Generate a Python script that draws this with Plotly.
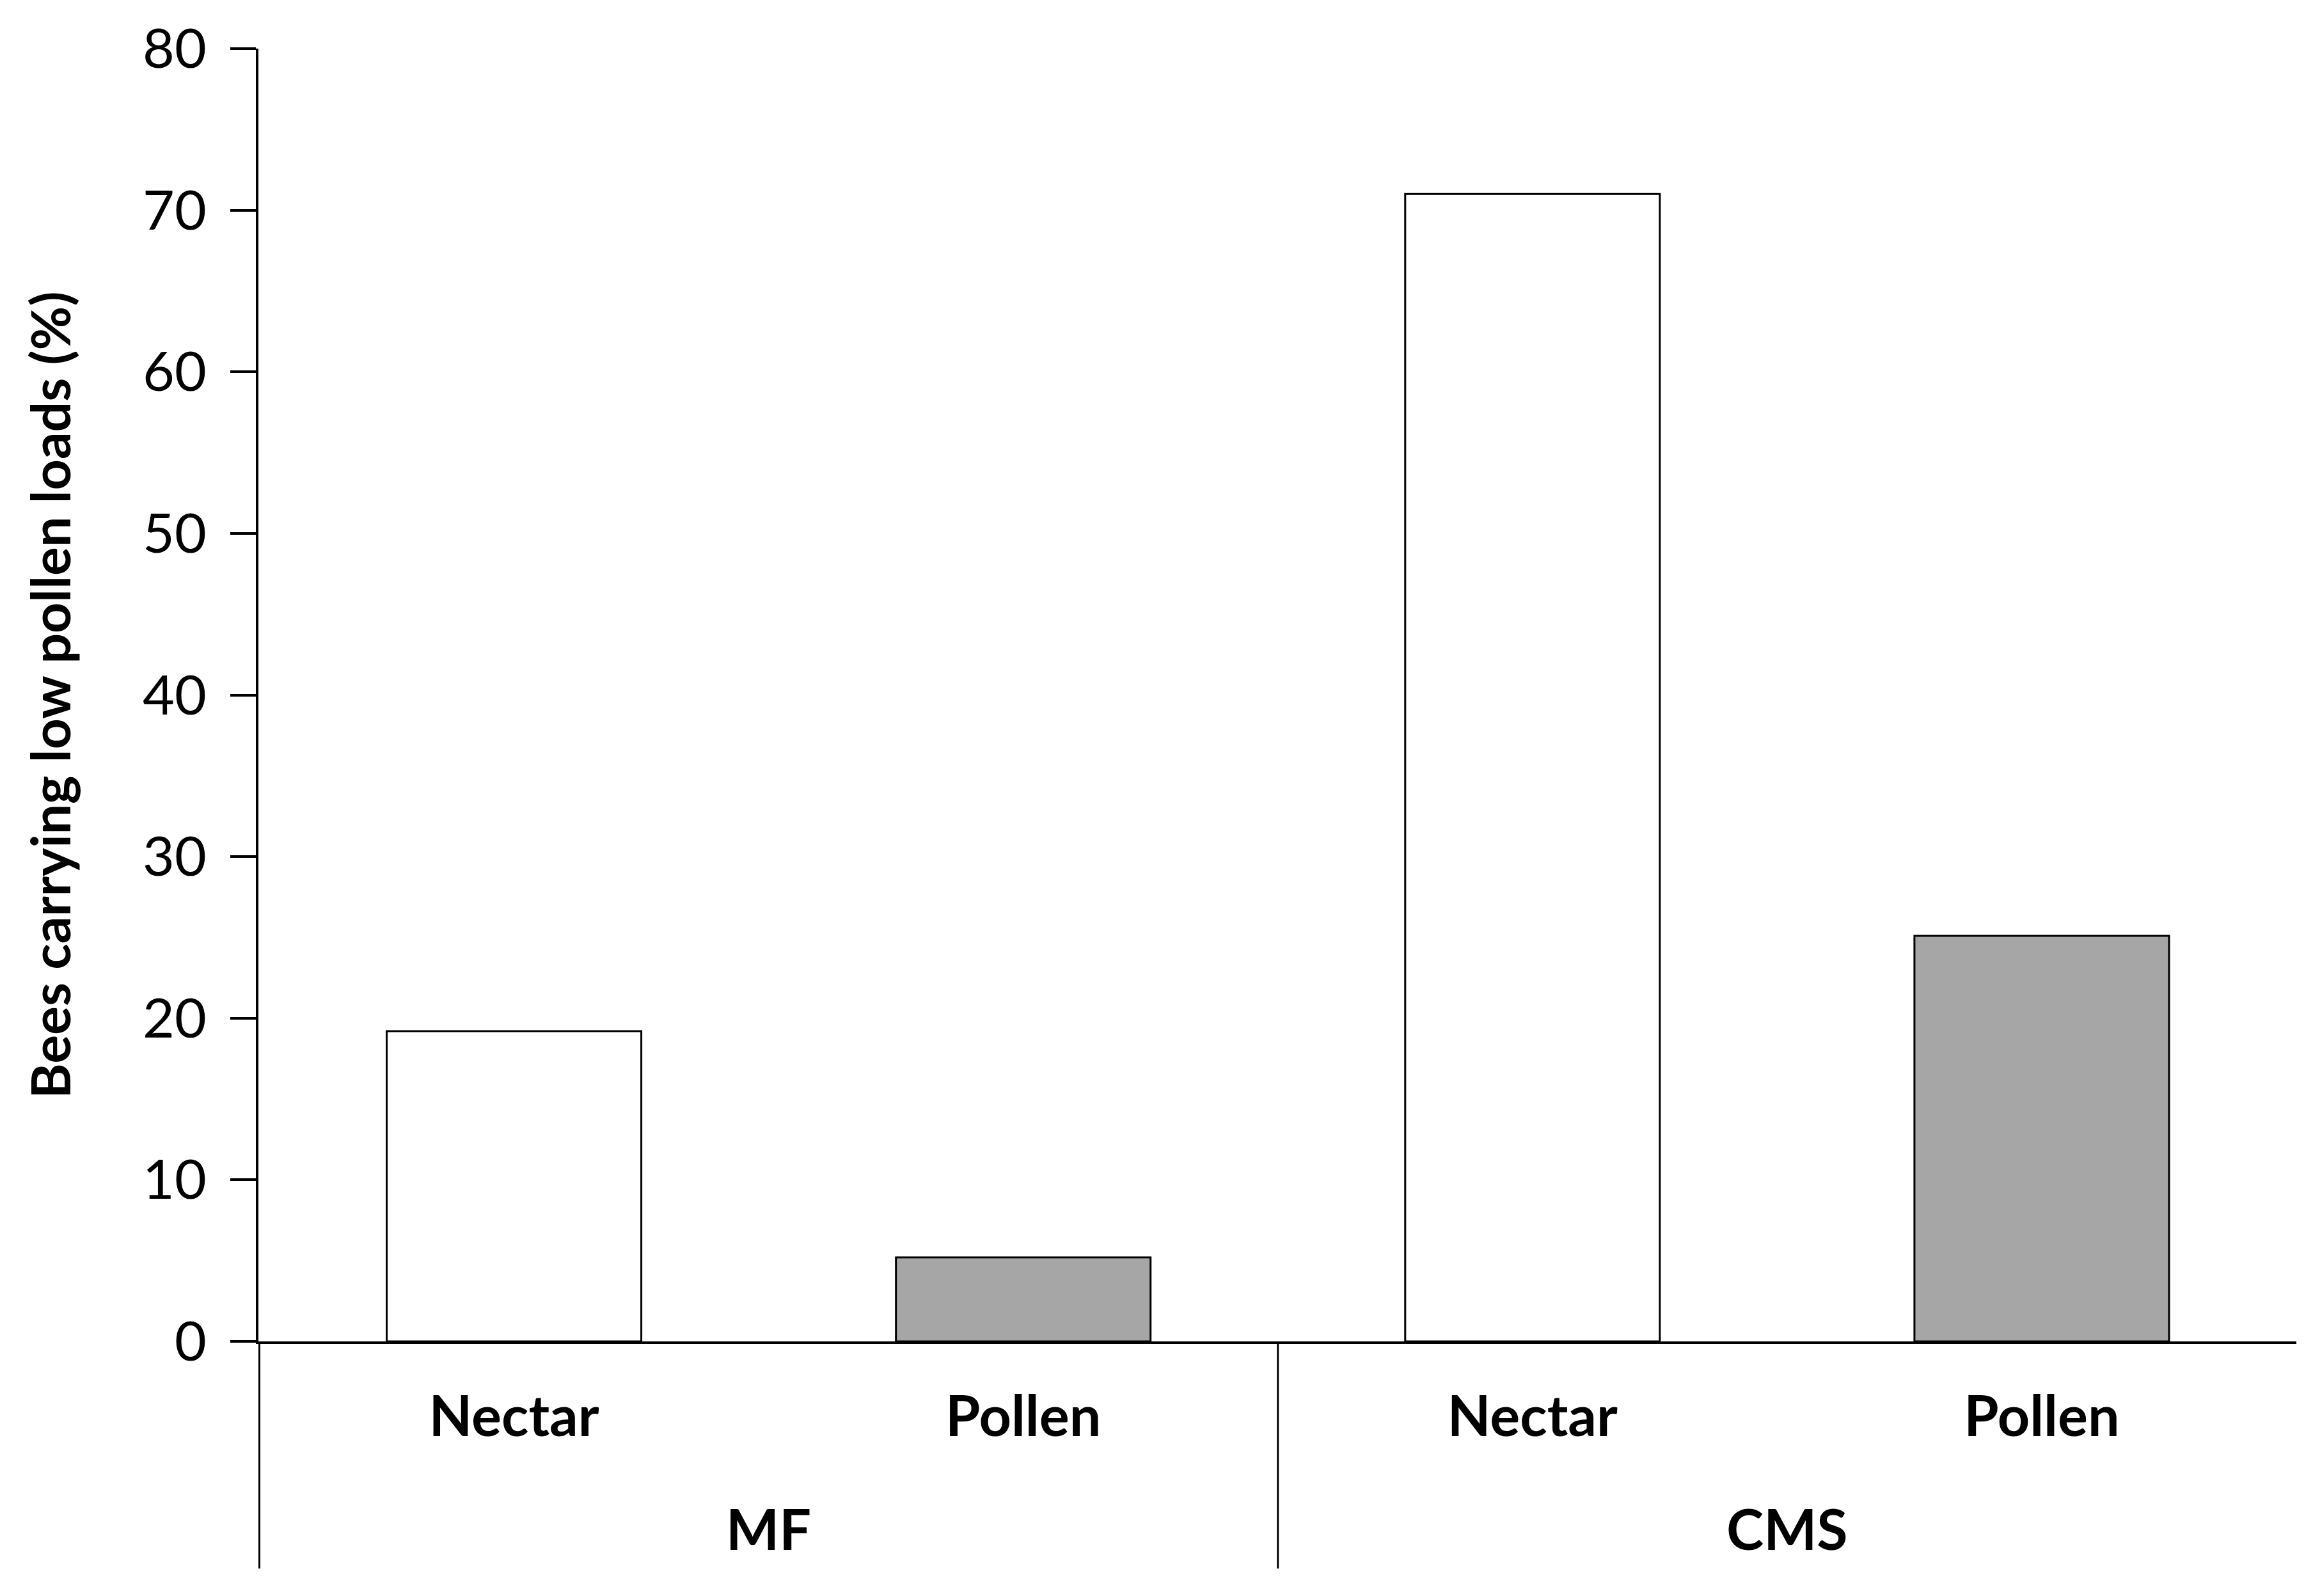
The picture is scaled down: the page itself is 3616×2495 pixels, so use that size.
import plotly.graph_objects as go

# data
groups = ["MF", "MF", "CMS", "CMS"]
sources = ["Nectar", "Pollen", "Nectar", "Pollen"]
low_pollen_pct = [19.2, 5.2, 71.0, 25.1]
source_colors = {"Nectar": "#FFFFFF", "Pollen": "#A6A6A6"}
y_ticks = [0, 10, 20, 30, 40, 50, 60, 70, 80]

FONT = "Lato, 'Liberation Sans', sans-serif"
W, H = 3616, 2495
m_left, m_right, m_top, m_bottom = 396, 34, 68, 406
plot_h = H - m_top - m_bottom

x_keys = [f"{g} {s}" for g, s in zip(groups, sources)]

fig = go.Figure(
    go.Bar(
        x=x_keys,
        y=low_pollen_pct,
        marker={
            "color": [source_colors[s] for s in sources],
            "line": {"color": "black", "width": 3},
        },
        showlegend=False,
    )
)

# group labels and dividers below the axis
group_names = list(dict.fromkeys(groups))
annotations = []
shapes = []
divider_depth = -355 / plot_h
for g in group_names:
    idx = [i for i, gg in enumerate(groups) if gg == g]
    annotations.append(
        dict(
            x=sum(idx) / len(idx),
            xref="x",
            y=-292 / plot_h,
            yref="paper",
            text=f"<b>{g}</b>",
            showarrow=False,
            yanchor="middle",
            font={"family": FONT, "size": 88, "color": "black"},
        )
    )
    shapes.append(
        dict(
            type="line",
            xref="x",
            yref="paper",
            x0=idx[0] - 0.5,
            x1=idx[0] - 0.5,
            y0=0,
            y1=divider_depth,
            line={"color": "black", "width": 3},
        )
    )

fig.update_layout(
    width=W,
    height=H,
    margin={"l": m_left, "r": m_right, "t": m_top, "b": m_bottom},
    plot_bgcolor="white",
    paper_bgcolor="white",
    bargap=0.5,
    annotations=annotations,
    shapes=shapes,
    font={"family": FONT, "color": "black"},
)

fig.update_xaxes(
    type="category",
    tickvals=x_keys,
    ticktext=[f"<b>{s}</b>" for s in sources],
    tickfont={"family": FONT, "size": 88, "color": "black"},
    ticks="",
    ticklabelstandoff=38,
    showline=True,
    linecolor="black",
    linewidth=4,
    showgrid=False,
    zeroline=False,
)

fig.update_yaxes(
    range=[0, 80],
    tickvals=y_ticks,
    tickfont={"family": FONT, "size": 86, "color": "black"},
    ticks="outside",
    ticklen=40,
    tickwidth=4,
    tickcolor="black",
    ticklabelstandoff=20,
    showline=True,
    linecolor="black",
    linewidth=4,
    showgrid=False,
    zeroline=False,
    title={
        "text": "<b>Bees carrying low pollen loads (%)</b>",
        "font": {"family": FONT, "size": 84, "color": "black"},
        "standoff": 86,
    },
)

fig.write_html("out.html")
